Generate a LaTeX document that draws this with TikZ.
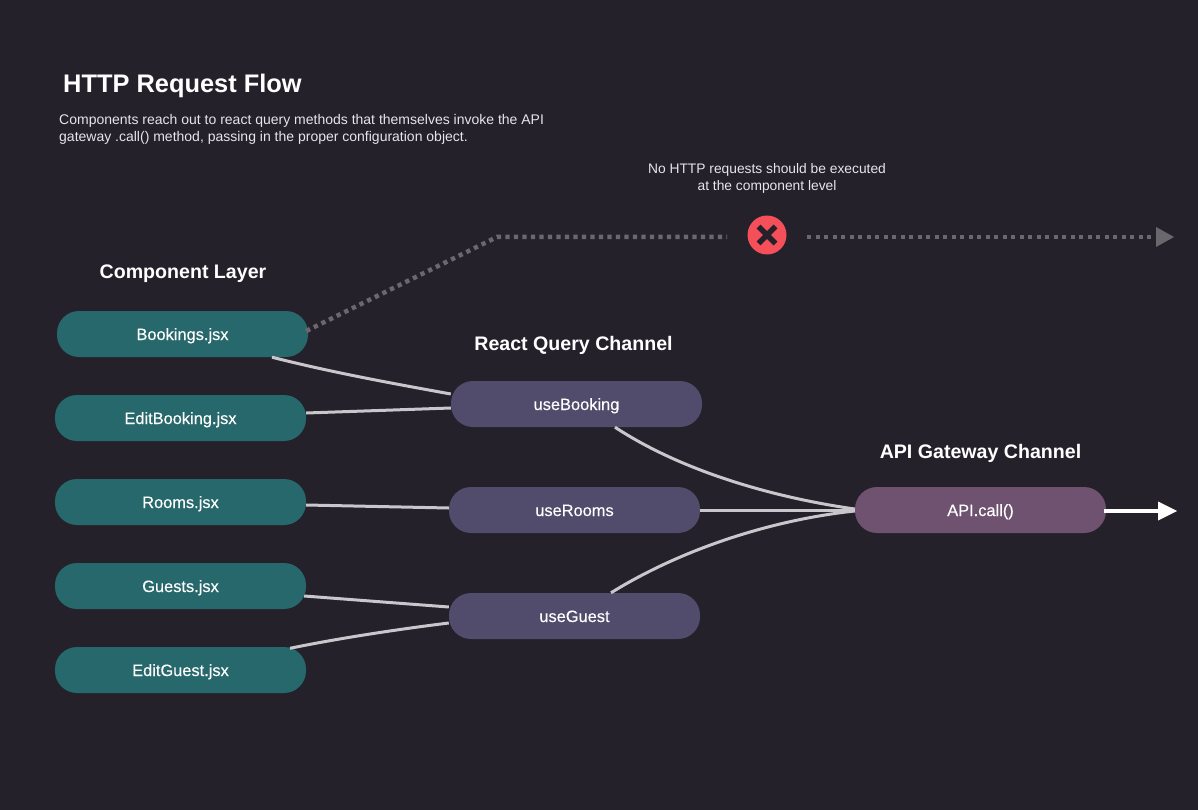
\documentclass[tikz,border=0pt]{standalone}
\usepackage{fontspec}
\setmainfont{Liberation Sans}
\newfontfamily\pillfont[FakeBold=0.25]{Liberation Sans}
\usetikzlibrary{arrows.meta,calc}
\definecolor{bgc}{HTML}{24212B}
\definecolor{tealc}{HTML}{26686B}
\definecolor{purc}{HTML}{514C6C}
\definecolor{mauc}{HTML}{6F5270}
\definecolor{redc}{HTML}{F5505A}
\definecolor{linec}{HTML}{C9C7CB}
\definecolor{dotc}{HTML}{6A686C}
\definecolor{txtc}{HTML}{E6E5E8}
\tikzset{
 x=1pt,y=-1pt,
 pill/.style={rounded corners=22pt,minimum width=251pt,minimum height=46pt,inner sep=0pt,text=white,text height=14pt,text depth=2pt,font=\pillfont\fontsize{16.4}{18}\selectfont},
 comp/.style={pill,fill=tealc},
 query/.style={pill,fill=purc},
 gate/.style={pill,fill=mauc},
 head/.style={text=white,inner sep=0pt,font=\bfseries\fontsize{19.6}{24}\selectfont},
 body/.style={text=txtc,inner sep=0pt,font=\fontsize{14}{17}\selectfont},
 wire/.style={draw=linec,line width=3pt},
 dots/.style={draw=dotc,line width=4.5pt,dash pattern=on 4.3pt off 4.2pt},
}
\begin{document}
\begin{tikzpicture}
\useasboundingbox[fill=bgc] (0,0) rectangle (1198,810);
\node[text=white,inner sep=0pt,anchor=west,font=\bfseries\fontsize{25.4}{30}\selectfont] (title) at (63,85.5) {HTTP Request Flow};
\node[body,anchor=north west,align=left] (intro) at (59,114) {Components reach out to react query methods that themselves invoke the API\\gateway .call() method, passing in the proper configuration object.};
\node[body,align=center,font=\fontsize{13.8}{16.4}\selectfont] (warn) at (767,178.5) {No HTTP requests should be executed\\at the component level};
\node[head] (h1) at (183,274) {Component Layer};
\node[head] (h2) at (573.5,345) {React Query Channel};
\node[head] (h3) at (980.5,453) {API Gateway Channel};
\node[comp] (bookings) at (182.5,334) {Bookings.jsx};
\node[comp] (editbooking) at (180.5,418) {EditBooking.jsx};
\node[comp] (rooms) at (180.5,502) {Rooms.jsx};
\node[comp] (guests) at (180.5,586) {Guests.jsx};
\node[comp] (editguest) at (180.5,670) {EditGuest.jsx};
\node[query] (usebooking) at (576.5,404) {useBooking};
\node[query] (userooms) at (574.5,510) {useRooms};
\node[query] (useguest) at (574.5,616) {useGuest};
\node[gate] (api) at (980.5,510) {API.call()};
\node[circle,fill=redc,minimum size=39pt,inner sep=0pt] (cross) at (767,235) {};
\draw[bgc,line width=5.5pt] ($(cross)+(-8.5,-8.5)$) -- ($(cross)+(8.5,8.5)$) ($(cross)+(-8.5,8.5)$) -- ($(cross)+(8.5,-8.5)$);
\coordinate (bend) at (497,237);
\coordinate (ghostend) at (1174,237);
\coordinate (apiend) at (1177,511);
\draw[dots] ($(bookings.east)+(-2,-3)$) -- (bend) -- ($(cross)+(-40,2)$);
\draw[dots] ($(cross)+(40,2)$) -- ($(ghostend)+(-19,0)$);
\fill[dotc] ($(ghostend)+(-18,-10)$) -- (ghostend) -- ($(ghostend)+(-18,10)$) -- cycle;
\draw[wire] ($(bookings.south)+(89.5,0)$) .. controls (330,372) and (390,383) .. ($(usebooking.west)+(0,-10)$);
\draw[wire] ($(editbooking.east)+(0,-5)$) -- ($(usebooking.west)+(0,4)$);
\draw[wire] ($(rooms.east)+(0,3)$) -- ($(userooms.west)+(0,-2)$);
\draw[wire] ($(guests.east)+(-2,10)$) -- ($(useguest.west)+(0,-9)$);
\draw[wire] ($(editguest.north)+(109.5,1.5)$) .. controls (340,638) and (400,629) .. ($(useguest.west)+(0,7)$);
\draw[wire] ($(usebooking.south)+(38.5,0)$) .. controls (680,470) and (770,497) .. ($(api.west)+(0,-1)$);
\draw[wire] (userooms.east) -- (api.west);
\draw[wire] ($(useguest.north)+(36.5,0)$) .. controls (680,550) and (770,520) .. ($(api.west)+(0,1)$);
\draw[white,line width=3.5pt] ($(api.east)+(-2,1)$) -- ($(apiend)+(-18,0)$);
\fill[white] ($(apiend)+(-19,-9.5)$) -- (apiend) -- ($(apiend)+(-19,9.5)$) -- cycle;
\end{tikzpicture}
\end{document}
